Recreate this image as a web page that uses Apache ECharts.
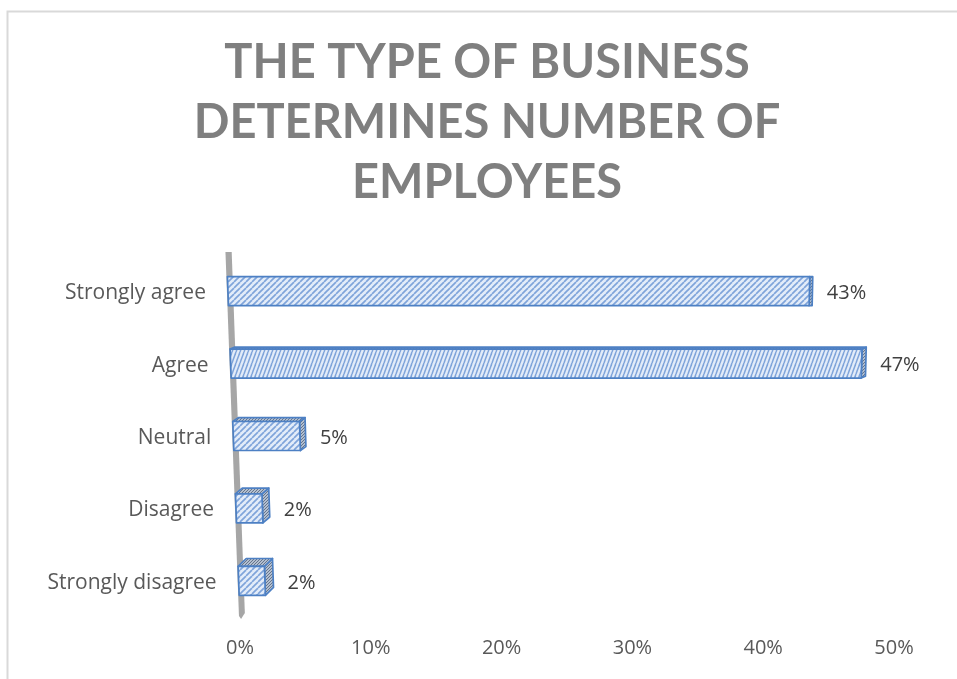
<!DOCTYPE html>
<html>
<head>
<meta charset="utf-8">
<script src="https://cdn.jsdelivr.net/npm/echarts@6/dist/echarts.min.js"></script>
<style>
  html, body { margin: 0; padding: 0; background: #ffffff; }
  #chart { width: 957px; height: 679px; }
</style>
</head>
<body>
<div id="chart"></div>
<script>
// Survey answers and their shares (percent)
const categories = ['Strongly agree', 'Agree', 'Neutral', 'Disagree', 'Strongly disagree'];
const shares = [43, 47, 5, 2, 2];
const tickValues = [0, 10, 20, 30, 40, 50];
const titleLines = ['THE TYPE OF BUSINESS', 'DETERMINES NUMBER OF', 'EMPLOYEES'];

// Pseudo-3D projection: rows higher above the floor drift left and widen slightly
const SHEAR = 0.037;
const GROW = 0.000104;
const DEPTH = 0.027;
const LABEL_FONT = 'Open Sans';
const LABEL_SIZE = 20;
const CATEGORY_SIZE = 21;

function project(cs, x, y) {
  const zx = cs.x;
  const dy = cs.y + cs.height - y;
  return [zx + (x - zx) * (1 + dy * GROW) - dy * SHEAR, y];
}

// Hatched tile used as a pattern fill
function stripeTile(w, h, bg, fg, lw) {
  const c = document.createElement('canvas');
  c.width = w; c.height = h;
  const g = c.getContext('2d');
  g.fillStyle = bg;
  g.fillRect(0, 0, w, h);
  g.strokeStyle = fg;
  g.lineWidth = lw;
  for (const ox of [-w, 0, w]) {
    g.beginPath();
    g.moveTo(ox, h);
    g.lineTo(ox + w, 0);
    g.stroke();
  }
  return c;
}

const frontFill = { image: stripeTile(6, 6, '#e3ecf9', '#7fa4da', 1.7), repeat: 'repeat' };
const frontFillSteep = { image: stripeTile(4, 11, '#e3ecf9', '#7fa4da', 1.5), repeat: 'repeat' };
const shadeFill = { image: stripeTile(3, 3, '#b3bfd0', '#65758c', 1), repeat: 'repeat' };
const EDGE = '#4d80c4';

function renderAxisWall(params, api) {
  const cs = params.coordSys;
  const top = cs.y - 3;
  const bottom = cs.y + cs.height + 2;
  const pts = [
    project(cs, cs.x - 1, top),
    project(cs, cs.x + 5, top),
    project(cs, cs.x + 5, bottom - 6),
    project(cs, cs.x + 1, bottom),
    project(cs, cs.x - 1, bottom - 3)
  ];
  return {
    type: 'polygon',
    shape: { points: pts },
    style: { fill: '#a6a6a6' },
    silent: true
  };
}

function renderBar(params, api) {
  const cs = params.coordSys;
  const val = api.value(0);
  const idx = api.value(1);
  const origin = api.coord([0, idx]);
  const end = api.coord([val, idx]);
  const band = api.size([0, 1])[1];
  const cy = origin[1];
  const half = band * 0.2;
  const yT = cy - half;
  const yB = cy + half;
  const x0 = origin[0];
  const x1 = end[0];

  const firstRowY = cs.y + band / 2;
  const d = Math.max(0, (cy - firstRowY) * DEPTH);
  const dx = 3 + 0.65 * d;

  const FLt = project(cs, x0, yT);
  const FRt = project(cs, x1, yT);
  const FRb = project(cs, x1, yB);
  const FLb = project(cs, x0, yB);

  const stroke = { stroke: EDGE, lineWidth: 1.7, lineJoin: 'round' };
  const children = [];

  children.push({
    type: 'polygon',
    shape: { points: [FRt, [FRt[0] + dx, yT - d], [FRb[0] + dx, yB - d], FRb] },
    style: Object.assign({ fill: shadeFill }, stroke)
  });
  if (d > 0.5) {
    children.push({
      type: 'polygon',
      shape: { points: [FLt, FRt, [FRt[0] + dx, yT - d], [FLt[0] + dx, yT - d]] },
      style: Object.assign({ fill: shadeFill }, stroke)
    });
  }
  children.push({
    type: 'polygon',
    shape: { points: [FLt, FRt, FRb, FLb] },
    style: Object.assign({ fill: idx === 1 ? frontFillSteep : frontFill }, stroke)
  });

  // value label
  children.push({
    type: 'text',
    style: {
      text: val + '%',
      x: Math.max(FRt[0], FRb[0]) + dx + 14,
      y: cy + 2,
      align: 'left',
      verticalAlign: 'middle',
      fill: '#404040',
      fontSize: LABEL_SIZE,
      fontFamily: LABEL_FONT
    }
  });

  // category label follows the slanted axis
  const lp = project(cs, x0, cy);
  children.push({
    type: 'text',
    style: {
      text: categories[idx],
      x: lp[0] - 22,
      y: cy + 2,
      align: 'right',
      verticalAlign: 'middle',
      fill: '#595959',
      fontSize: CATEGORY_SIZE,
      fontFamily: LABEL_FONT
    }
  });

  return { type: 'group', children: children };
}

const chart = echarts.init(document.getElementById('chart'), null, { renderer: 'canvas' });

chart.setOption({
  backgroundColor: '#ffffff',
  animation: false,
  graphic: [
    {
      type: 'rect',
      silent: true,
      shape: { x: 7.5, y: 11.5, width: 1000, height: 1000 },
      style: { fill: 'none', stroke: '#d9d9d9', lineWidth: 2 }
    },
    {
      type: 'text',
      silent: true,
      x: 487,
      y: 33,
      style: {
        text: titleLines.join('\n'),
        fill: '#7f7f7f',
        fontSize: 47,
        fontWeight: 'bold',
        fontFamily: 'Lato',
        align: 'center',
        verticalAlign: 'top',
        lineHeight: 60
      }
    }
  ],
  grid: { left: 240, right: 63, top: 255, bottom: 62 },
  xAxis: {
    type: 'value',
    min: tickValues[0],
    max: tickValues[tickValues.length - 1],
    interval: tickValues[1] - tickValues[0],
    axisLine: { show: false },
    axisTick: { show: false },
    splitLine: { show: false },
    axisLabel: {
      formatter: '{value}%',
      margin: 21,
      color: '#595959',
      fontSize: LABEL_SIZE,
      fontFamily: LABEL_FONT
    }
  },
  yAxis: {
    type: 'category',
    data: categories,
    inverse: true,
    axisLine: { show: false },
    axisTick: { show: false },
    axisLabel: { show: false },
    splitLine: { show: false }
  },
  series: [
    {
      type: 'custom',
      z: 1,
      silent: true,
      renderItem: renderAxisWall,
      data: [[0, 0]],
      encode: { x: 0, y: 1 }
    },
    {
      type: 'custom',
      z: 2,
      silent: true,
      renderItem: renderBar,
      data: shares.map((v, i) => [v, i]),
      encode: { x: 0, y: 1 }
    }
  ]
});
</script>
</body>
</html>
